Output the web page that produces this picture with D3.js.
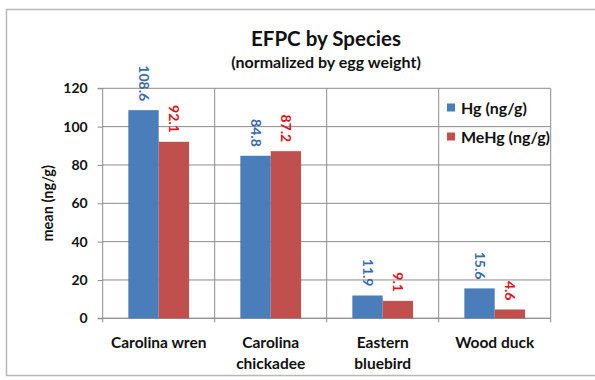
<!DOCTYPE html>
<html><head><meta charset="utf-8">
<script src="https://cdn.jsdelivr.net/npm/d3@7"></script>
<style>body{margin:0;background:#fff}svg{display:block;font-family:Lato,"Open Sans",sans-serif}</style>
</head><body><svg id="c" width="595" height="380"></svg>
<script>
const categories = ["Carolina wren", "Carolina chickadee", "Eastern bluebird", "Wood duck"];
const categoryLines = [["Carolina wren"], ["Carolina", "chickadee"], ["Eastern", "bluebird"], ["Wood duck"]];
const seriesNames = ["Hg (ng/g)", "MeHg (ng/g)"];
const hgValues = [108.6, 84.8, 11.9, 15.6];
const mehgValues = [92.1, 87.2, 9.1, 4.6];
const yTicks = [0, 20, 40, 60, 80, 100, 120];

const barColors = ["#4a7ebb", "#c0504d"];
const labelColors = ["#3a6aad", "#e0101c"];

const svg = d3.select("#c");
const m = {l: 102.7, r: 550.7, t: 88.3, b: 318.3};

svg.append("rect").attr("x", 6.5).attr("y", 9.5).attr("width", 600).attr("height", 366)
  .attr("fill", "#fff").attr("stroke", "#b8b8b8").attr("stroke-width", 1.5);

const x0 = d3.scaleBand().domain(categories).range([m.l, m.r]).padding(0);
const bw = x0.bandwidth();
const x1 = d3.scaleBand().domain(seriesNames).range([bw * 0.229, bw * 0.771]).padding(0);
const y = d3.scaleLinear().domain([0, 120]).range([m.b, m.t]);

// gridlines
svg.append("g").selectAll("line").data(yTicks).join("line")
  .attr("x1", m.l).attr("x2", m.r).attr("y1", d => y(d)).attr("y2", d => y(d))
  .attr("stroke", "#8c8c8c").attr("stroke-width", 1);
// vertical separators
svg.append("g").selectAll("line").data(categories.slice(1)).join("line")
  .attr("x1", d => x0(d)).attr("x2", d => x0(d)).attr("y1", m.t).attr("y2", m.b + 4)
  .attr("stroke", "#8c8c8c").attr("stroke-width", 1);
svg.append("line").attr("x1", m.r).attr("x2", m.r).attr("y1", m.t).attr("y2", m.b + 4)
  .attr("stroke", "#8c8c8c");

// y axis
const yAxis = d3.axisLeft(y).tickValues(yTicks).tickSize(5).tickPadding(10);
const ya = svg.append("g").attr("transform", `translate(${m.l},0)`).call(yAxis);
ya.select(".domain").attr("stroke", "#8c8c8c").attr("d", `M-5,${m.t}H0V${m.b}`);
ya.selectAll(".tick line").attr("stroke", "#8c8c8c");
ya.selectAll("text").attr("font-size", 14).attr("font-weight", "bold").attr("fill", "#111")
  .attr("font-family", "Lato, sans-serif");

// x axis baseline
svg.append("line").attr("x1", m.l - 5).attr("x2", m.r).attr("y1", m.b).attr("y2", m.b)
  .attr("stroke", "#8c8c8c");
svg.append("line").attr("x1", m.l).attr("x2", m.l).attr("y1", m.b).attr("y2", m.b + 4)
  .attr("stroke", "#8c8c8c");

// bars
const rows = categories.map((c, i) => ({cat: c, vals: [hgValues[i], mehgValues[i]]}));
const g = svg.append("g").selectAll("g").data(rows).join("g")
  .attr("transform", d => `translate(${x0(d.cat)},0)`);
g.selectAll("rect").data(d => d.vals.map((v, j) => ({s: seriesNames[j], v, j}))).join("rect")
  .attr("x", d => x1(d.s)).attr("width", x1.bandwidth())
  .attr("y", d => y(d.v)).attr("height", d => y(0) - y(d.v))
  .attr("fill", d => barColors[d.j]);
g.selectAll("text").data(d => d.vals.map((v, j) => ({s: seriesNames[j], v, j}))).join("text")
  .attr("transform", d => `translate(${x1(d.s) + x1.bandwidth() / 2},${y(d.v) - 9}) rotate(90)`)
  .attr("text-anchor", "end").attr("dy", "0.35em")
  .attr("font-size", 14).attr("font-weight", "bold").attr("fill", d => labelColors[d.j])
  .text(d => d.v.toFixed(1));

// category labels
const cl = svg.append("g").selectAll("text").data(categories).join("text")
  .attr("x", d => x0(d) + bw / 2).attr("y", 347.5)
  .attr("text-anchor", "middle").attr("font-size", 15.5).attr("font-weight", "bold").attr("fill", "#111");
cl.each(function(d, i) {
  d3.select(this).selectAll("tspan").data(categoryLines[i]).join("tspan")
    .attr("x", x0(d) + bw / 2).attr("dy", (t, k) => k === 0 ? 0 : 21).text(t => t);
});

// titles
svg.append("text").attr("x", 326).attr("y", 45.5).attr("text-anchor", "middle")
  .attr("font-size", 20.5).attr("font-weight", "bold").attr("fill", "#111").text("EFPC by Species");
svg.append("text").attr("x", 326).attr("y", 67.5).attr("text-anchor", "middle")
  .attr("font-size", 16).attr("font-weight", "bold").attr("fill", "#111").text("(normalized by egg weight)");
svg.append("text").attr("transform", `translate(53,${(m.t + m.b) / 2}) rotate(-90)`)
  .attr("text-anchor", "middle").attr("font-size", 14.5).attr("font-weight", "bold").attr("fill", "#111")
  .text("mean (ng/g)");

// legend
const lg = svg.append("g").selectAll("g").data(seriesNames).join("g")
  .attr("transform", (d, i) => `translate(447,${108 + i * 29})`);
lg.append("rect").attr("x", 0).attr("y", -4.5).attr("width", 8).attr("height", 8)
  .attr("fill", (d, i) => barColors[i]);
lg.append("text").attr("x", 14).attr("dy", "0.35em").attr("font-size", 16).attr("font-weight", "bold")
  .attr("fill", "#111").text(d => d);
</script></body></html>
